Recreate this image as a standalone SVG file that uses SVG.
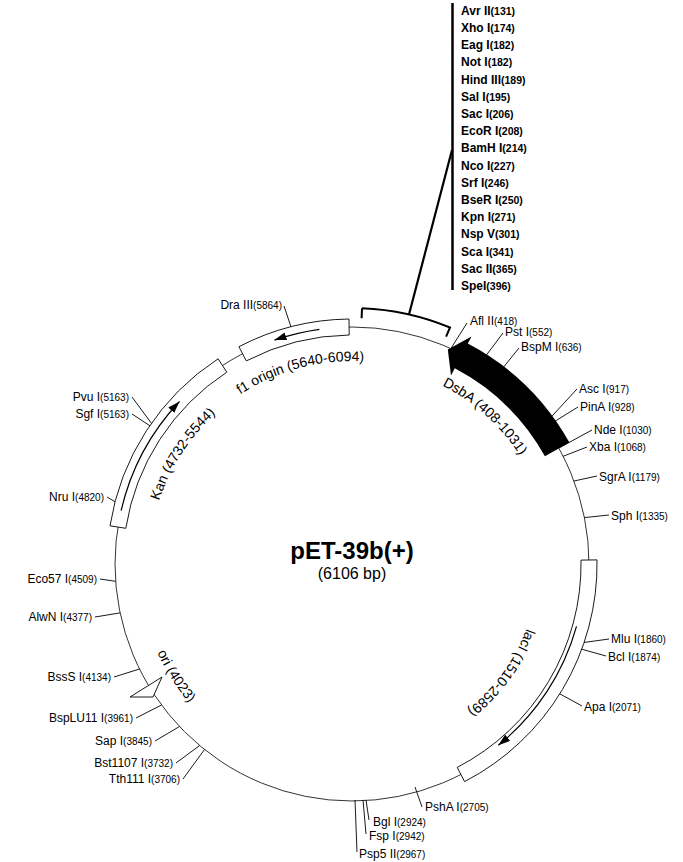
<svg xmlns="http://www.w3.org/2000/svg" width="683" height="862" viewBox="0 0 683 862">
<style>
text{font-family:"Liberation Sans",Arial,sans-serif;fill:#000}
.s{font-size:12px}
.n{font-size:10px}
.m{font-size:12px;font-weight:bold}
.mn{font-size:10.5px;font-weight:bold}
.e{text-anchor:end}
.t{stroke:#000;stroke-width:0.9;fill:none}
.box{fill:#fff;stroke:#000;stroke-width:0.9}
.arr{stroke:#000;stroke-width:1.2;fill:none}
.f{font-size:14px}
</style>
<defs>
<marker id="ah" markerUnits="userSpaceOnUse" markerWidth="13" markerHeight="8" refX="12" refY="4" orient="auto"><path d="M0,0 L12,4 L0,8 z" fill="#000"/></marker>
<path id="pf1" d="M155.9,511.5 A203,203 0 0 1 495.5,420.5"/>
<path id="pkan" d="M171.1,656.2 A203,203 0 0 1 362.6,361.3"/>
<path id="pdsb" d="M290.2,373.8 A200,200 0 0 1 547.6,605.6"/>
<path id="plac" d="M521.9,488.4 A186,186 0 0 1 332.6,749"/>
<path id="pori" d="M162.2,465.2 A214,214 0 0 0 361.3,777.8"/>
</defs>
<g id="backbone"><circle cx="352" cy="564" r="237" fill="none" stroke="#333" stroke-width="1"/></g>
<g id="connectors">
<line class="t" x1="450.8" y1="348.6" x2="467" y2="323"/>
<line class="t" x1="479.5" y1="364.2" x2="503" y2="333"/>
<line class="t" x1="496.3" y1="376" x2="519" y2="348"/>
<line class="t" x1="543.9" y1="424.9" x2="577" y2="389"/>
<line class="t" x1="545.5" y1="427.1" x2="578" y2="407"/>
<line class="t" x1="558.7" y1="448.1" x2="592" y2="430"/>
<line class="t" x1="563.1" y1="456.3" x2="587" y2="447"/>
<line class="t" x1="574" y1="481" x2="597" y2="476"/>
<line class="t" x1="584.4" y1="517.6" x2="609" y2="515"/>
<line class="t" x1="575.2" y1="643.7" x2="609" y2="639"/>
<line class="t" x1="574" y1="647" x2="606" y2="656"/>
<line class="t" x1="552.8" y1="690" x2="582" y2="706"/>
<line class="t" x1="415" y1="787" x2="422" y2="807"/>
<line class="t" x1="366" y1="800" x2="369" y2="820"/>
<line class="t" x1="363" y1="800" x2="366" y2="834"/>
<line class="t" x1="355" y1="800" x2="357" y2="852"/>
<line class="t" x1="293.5" y1="334.3" x2="284" y2="306"/>
<line class="t" x1="156.5" y1="430.1" x2="132" y2="397"/>
<line class="t" x1="156.5" y1="430.1" x2="132" y2="414"/>
<line class="t" x1="122.3" y1="505.9" x2="107" y2="497"/>
<line class="t" x1="115.6" y1="581.3" x2="100" y2="579"/>
<line class="t" x1="120" y1="612.9" x2="95" y2="617"/>
<line class="t" x1="139.5" y1="669" x2="114" y2="677"/>
<line class="t" x1="161.5" y1="705" x2="136" y2="718"/>
<line class="t" x1="179.5" y1="726.5" x2="155" y2="741"/>
<line class="t" x1="199.7" y1="745.5" x2="176" y2="763"/>
<line class="t" x1="204.5" y1="749.5" x2="183" y2="779"/>
<path d="M362,308.2 L361.6,318.2 M362,308.2 A256,256 0 0 1 450,327.5 L446.1,336.7" fill="none" stroke="#000" stroke-width="2"/>
<polyline points="409,314.5 452,150" fill="none" stroke="#000" stroke-width="2.2"/>
<line x1="452.5" y1="3" x2="452.5" y2="290" stroke="#000" stroke-width="2.5"/>
</g>
<g id="f1">
<path class="box" d="M238.9,346.7 A245,245 0 0 1 349,319 L349.2,335 A229,229 0 0 0 246.3,360.9 Z"/>
<path class="arr" d="M319.4,329.3 A237,237 0 0 0 274.5,340.1" marker-end="url(#ah)"/>
<text class="f"><textPath href="#pf1" startOffset="50%" text-anchor="middle">f1 origin (5640-6094)</textPath></text>
</g>
<g id="kan">
<path class="box" d="M110,525.8 A245,245 0 0 1 218.1,358.8 L226.8,372.2 A229,229 0 0 0 125.8,528.3 Z"/>
<path class="arr" d="M121.1,510.7 A237,237 0 0 1 179.5,401.5" marker-end="url(#ah)"/>
<text class="f"><textPath href="#pkan" startOffset="50%" text-anchor="middle">Kan (4732-5544)</textPath></text>
</g>
<g id="laci">
<path class="box" d="M597,559.9 A245,245 0 0 1 464.6,781.6 L457.2,767.4 A229,229 0 0 0 581,560.1 Z"/>
<path class="arr" d="M576.5,626.3 A233,233 0 0 1 498.3,745.3" marker-end="url(#ah)"/>
<text class="f"><textPath href="#plac" startOffset="50%" text-anchor="middle">lacI (1510-2589)</textPath></text>
</g>
<g id="dsba">
<path d="M569.4,442.5 A249,249 0 0 0 467.8,343.6 L471.5,336.5 L447.8,349.4 L451,375.4 L454.8,368.3 A221,221 0 0 1 544.9,456.2 Z" fill="#000"/>
<text class="f"><textPath href="#pdsb" startOffset="50%" text-anchor="middle">DsbA (408-1031)</textPath></text>
</g>
<g id="ori">
<polygon points="130,697 162,677 153,697" fill="#fff" stroke="#000" stroke-width="0.9"/>
<text class="f"><textPath href="#pori" startOffset="50%" text-anchor="middle">ori (4023)</textPath></text>
</g>
<g id="title">
<text x="352" y="559" text-anchor="middle" style="font-size:24px;font-weight:bold">pET-39b(+)</text>
<text x="352" y="579" text-anchor="middle" style="font-size:16px">(6106 bp)</text>
</g>
<g id="mcs">
<text x="461" y="15" class="m">Avr II<tspan class="mn">(131)</tspan></text>
<text x="461" y="32" class="m">Xho I<tspan class="mn">(174)</tspan></text>
<text x="461" y="49" class="m">Eag I<tspan class="mn">(182)</tspan></text>
<text x="461" y="66" class="m">Not I<tspan class="mn">(182)</tspan></text>
<text x="461" y="84" class="m">Hind III<tspan class="mn">(189)</tspan></text>
<text x="461" y="101" class="m">Sal I<tspan class="mn">(195)</tspan></text>
<text x="461" y="118" class="m">Sac I<tspan class="mn">(206)</tspan></text>
<text x="461" y="135" class="m">EcoR I<tspan class="mn">(208)</tspan></text>
<text x="461" y="152" class="m">BamH I<tspan class="mn">(214)</tspan></text>
<text x="461" y="170" class="m">Nco I<tspan class="mn">(227)</tspan></text>
<text x="461" y="187" class="m">Srf I<tspan class="mn">(246)</tspan></text>
<text x="461" y="204" class="m">BseR I<tspan class="mn">(250)</tspan></text>
<text x="461" y="221" class="m">Kpn I<tspan class="mn">(271)</tspan></text>
<text x="461" y="238" class="m">Nsp V<tspan class="mn">(301)</tspan></text>
<text x="461" y="256" class="m">Sca I<tspan class="mn">(341)</tspan></text>
<text x="461" y="273" class="m">Sac II<tspan class="mn">(365)</tspan></text>
<text x="461" y="290" class="m">SpeI<tspan class="mn">(396)</tspan></text>
</g>
<g id="sites">
<text x="470" y="325" class="s">Afl II<tspan class="n">(418)</tspan></text>
<text x="505" y="336" class="s">Pst I<tspan class="n">(552)</tspan></text>
<text x="521" y="351" class="s">BspM I<tspan class="n">(636)</tspan></text>
<text x="579" y="393" class="s">Asc I<tspan class="n">(917)</tspan></text>
<text x="580" y="411" class="s">PinA I<tspan class="n">(928)</tspan></text>
<text x="594" y="434" class="s">Nde I<tspan class="n">(1030)</tspan></text>
<text x="589" y="451" class="s">Xba I<tspan class="n">(1068)</tspan></text>
<text x="599" y="481" class="s">SgrA I<tspan class="n">(1179)</tspan></text>
<text x="611" y="520" class="s">Sph I<tspan class="n">(1335)</tspan></text>
<text x="611" y="643" class="s">Mlu I<tspan class="n">(1860)</tspan></text>
<text x="608" y="661" class="s">Bcl I<tspan class="n">(1874)</tspan></text>
<text x="584" y="711" class="s">Apa I<tspan class="n">(2071)</tspan></text>
<text x="425" y="811" class="s">PshA I<tspan class="n">(2705)</tspan></text>
<text x="373" y="826" class="s">Bgl I<tspan class="n">(2924)</tspan></text>
<text x="369" y="840" class="s">Fsp I<tspan class="n">(2942)</tspan></text>
<text x="359" y="858" class="s">Psp5 II<tspan class="n">(2967)</tspan></text>
<text x="282" y="309" class="s e">Dra III<tspan class="n">(5864)</tspan></text>
<text x="129" y="401" class="s e">Pvu I<tspan class="n">(5163)</tspan></text>
<text x="129" y="418" class="s e">Sgf I<tspan class="n">(5163)</tspan></text>
<text x="104" y="501" class="s e">Nru I<tspan class="n">(4820)</tspan></text>
<text x="97" y="583" class="s e">Eco57 I<tspan class="n">(4509)</tspan></text>
<text x="92" y="621" class="s e">AlwN I<tspan class="n">(4377)</tspan></text>
<text x="111" y="681" class="s e">BssS I<tspan class="n">(4134)</tspan></text>
<text x="133" y="722" class="s e">BspLU11 I<tspan class="n">(3961)</tspan></text>
<text x="152" y="745" class="s e">Sap I<tspan class="n">(3845)</tspan></text>
<text x="173" y="767" class="s e">Bst1107 I<tspan class="n">(3732)</tspan></text>
<text x="180" y="783" class="s e">Tth111 I<tspan class="n">(3706)</tspan></text>
</g>
</svg>
